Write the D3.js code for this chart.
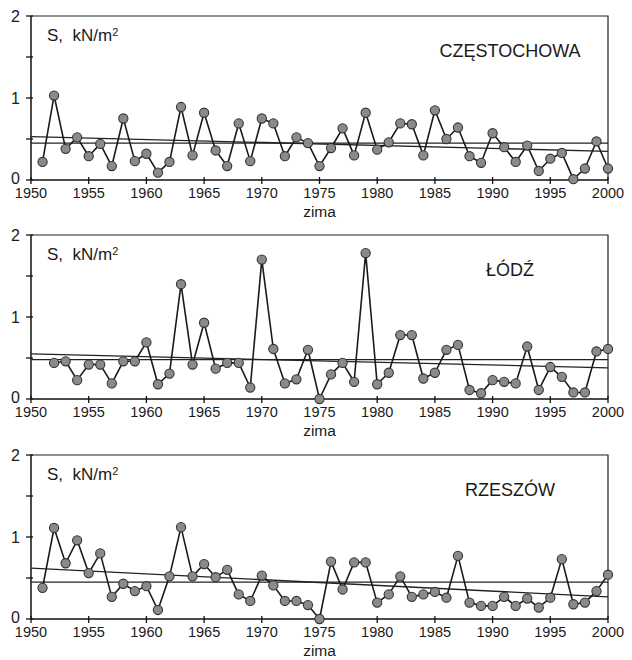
<!DOCTYPE html>
<html>
<head>
<meta charset="utf-8">
<script src="https://cdn.jsdelivr.net/npm/d3@7"></script>
<style>
  body { margin: 0; background: #fff; }
  text { font-family: "Liberation Sans", Arial, sans-serif; fill: #1a1a1a; }
</style>
</head>
<body>
<div id="chart"></div>
<script>
// snow load S (kN/m2) per winter
const stations = ["CZĘSTOCHOWA", "ŁÓDŹ", "RZESZÓW"];
const firstYears = [1951, 1952, 1951];

const czestochowa = [
  0.22, 1.03, 0.38, 0.52, 0.29, 0.44, 0.17, 0.75, 0.23, 0.32,
  0.09, 0.22, 0.89, 0.30, 0.82, 0.36, 0.17, 0.69, 0.23, 0.75,
  0.69, 0.29, 0.52, 0.45, 0.17, 0.39, 0.63, 0.30, 0.82, 0.37,
  0.46, 0.69, 0.68, 0.30, 0.85, 0.50, 0.64, 0.29, 0.21, 0.57,
  0.40, 0.22, 0.42, 0.11, 0.26, 0.33, 0.01, 0.14, 0.47, 0.14,
];
const lodz = [
  0.44, 0.46, 0.23, 0.42, 0.42, 0.19, 0.46, 0.46, 0.69,
  0.18, 0.31, 1.40, 0.42, 0.93, 0.37, 0.44, 0.44, 0.14, 1.70,
  0.61, 0.19, 0.24, 0.60, 0.0, 0.30, 0.44, 0.21, 1.78, 0.18,
  0.32, 0.78, 0.78, 0.25, 0.32, 0.60, 0.66, 0.11, 0.07, 0.23,
  0.21, 0.19, 0.64, 0.11, 0.39, 0.27, 0.08, 0.08, 0.58, 0.61,
];
const rzeszow = [
  0.38, 1.11, 0.68, 0.96, 0.56, 0.80, 0.27, 0.43, 0.34, 0.40,
  0.11, 0.52, 1.12, 0.52, 0.67, 0.51, 0.60, 0.30, 0.22, 0.53,
  0.41, 0.22, 0.22, 0.17, 0.0, 0.70, 0.36, 0.69, 0.69, 0.20,
  0.30, 0.52, 0.27, 0.30, 0.33, 0.26, 0.77, 0.20, 0.16, 0.16,
  0.27, 0.16, 0.25, 0.14, 0.26, 0.73, 0.18, 0.20, 0.34, 0.54,
];
const series = [czestochowa, lodz, rzeszow];

// mean level and linear trend (value at 1950, value at 2000)
const means = [0.45, 0.48, 0.45];
const trends = [[0.53, 0.35], [0.55, 0.38], [0.62, 0.27]];

const xTicks = [1950, 1955, 1960, 1965, 1970, 1975, 1980, 1985, 1990, 1995, 2000];
const yTicks = [0, 0.5, 1, 1.5, 2];
const yLabels = [0, 1, 2];

const width = 632;
const height = 660;
const panelTops = [16, 235, 455];
const panelHeight = 164;
const left = 31;
const right = 608;

const svg = d3
  .select("#chart")
  .append("svg")
  .attr("width", width)
  .attr("height", height);

const xScale = d3.scaleLinear().domain([1950, 2000]).range([left, right]);

const drawPanel = (i) => {
  const top = panelTops[i];
  const bottom = top + panelHeight;
  const yScale = d3.scaleLinear().domain([0, 2]).range([bottom, top]);
  const g = svg.append("g");

  // frame (top + right)
  g.append("path")
    .attr("d", `M${left},${top}H${right}V${bottom}`)
    .attr("fill", "none")
    .attr("stroke", "#222")
    .attr("stroke-width", 1.2);

  // x axis
  g.append("line")
    .attr("x1", left).attr("x2", right)
    .attr("y1", bottom).attr("y2", bottom)
    .attr("stroke", "#111").attr("stroke-width", 1.5);
  g.selectAll(".xtick")
    .data(xTicks)
    .join("line")
    .attr("class", "xtick")
    .attr("x1", (d) => xScale(d)).attr("x2", (d) => xScale(d))
    .attr("y1", bottom - 3).attr("y2", bottom + 4)
    .attr("stroke", "#111").attr("stroke-width", 1.3);
  g.selectAll(".xlabel")
    .data(xTicks)
    .join("text")
    .attr("class", "xlabel")
    .attr("x", (d) => xScale(d))
    .attr("y", bottom + 18)
    .attr("text-anchor", "middle")
    .style("font-size", "14.5px")
    .text((d) => d);
  g.append("text")
    .attr("x", xScale(1975))
    .attr("y", bottom + 37)
    .attr("text-anchor", "middle")
    .style("font-size", "15.5px")
    .text("zima");

  // y axis
  g.append("line")
    .attr("x1", left).attr("x2", left)
    .attr("y1", top).attr("y2", bottom)
    .attr("stroke", "#111").attr("stroke-width", 1.5);
  g.selectAll(".ytick")
    .data(yTicks)
    .join("line")
    .attr("class", "ytick")
    .attr("x1", left - 5).attr("x2", left + 2)
    .attr("y1", (d) => yScale(d)).attr("y2", (d) => yScale(d))
    .attr("stroke", "#111").attr("stroke-width", 1.3);
  g.selectAll(".ylabel")
    .data(yLabels)
    .join("text")
    .attr("class", "ylabel")
    .attr("x", left - 11)
    .attr("y", (d) => yScale(d) - (d === 0 ? 2 : 0))
    .attr("dy", "0.35em")
    .attr("text-anchor", "end")
    .style("font-size", "16px")
    .text((d) => d);

  // unit label
  const unit = g.append("text")
    .attr("x", 47)
    .attr("y", top + 25)
    .style("font-size", "17px");
  unit.append("tspan").text("S,\u00A0 kN/m");
  unit.append("tspan")
    .attr("dy", "-0.45em")
    .style("font-size", "11px")
    .text("2");

  // station name
  g.append("text")
    .attr("x", 510)
    .attr("y", top + 41)
    .attr("text-anchor", "middle")
    .style("font-size", "18px")
    .text(stations[i]);

  // mean and trend lines
  g.append("line")
    .attr("x1", xScale(1950)).attr("x2", xScale(2000))
    .attr("y1", yScale(means[i])).attr("y2", yScale(means[i]))
    .attr("stroke", "#222").attr("stroke-width", 1.3);
  g.append("line")
    .attr("x1", xScale(1950)).attr("x2", xScale(2000))
    .attr("y1", yScale(trends[i][0])).attr("y2", yScale(trends[i][1]))
    .attr("stroke", "#222").attr("stroke-width", 1.3);

  const data = series[i].map((v, k) => ({ year: firstYears[i] + k, value: v }));
  const lineGenerator = d3
    .line()
    .x((d) => xScale(d.year))
    .y((d) => yScale(d.value));

  g.append("path")
    .attr("d", lineGenerator(data))
    .attr("fill", "none")
    .attr("stroke", "#1a1a1a")
    .attr("stroke-width", 1.6)
    .attr("stroke-linejoin", "round");

  g.selectAll(".dot")
    .data(data)
    .join("circle")
    .attr("class", "dot")
    .attr("cx", (d) => xScale(d.year))
    .attr("cy", (d) => yScale(d.value))
    .attr("r", 4.6)
    .attr("fill", "#8a8a8a")
    .attr("stroke", "#333")
    .attr("stroke-width", 1.1);
};

stations.forEach((s, i) => drawPanel(i));
</script>
</body>
</html>
